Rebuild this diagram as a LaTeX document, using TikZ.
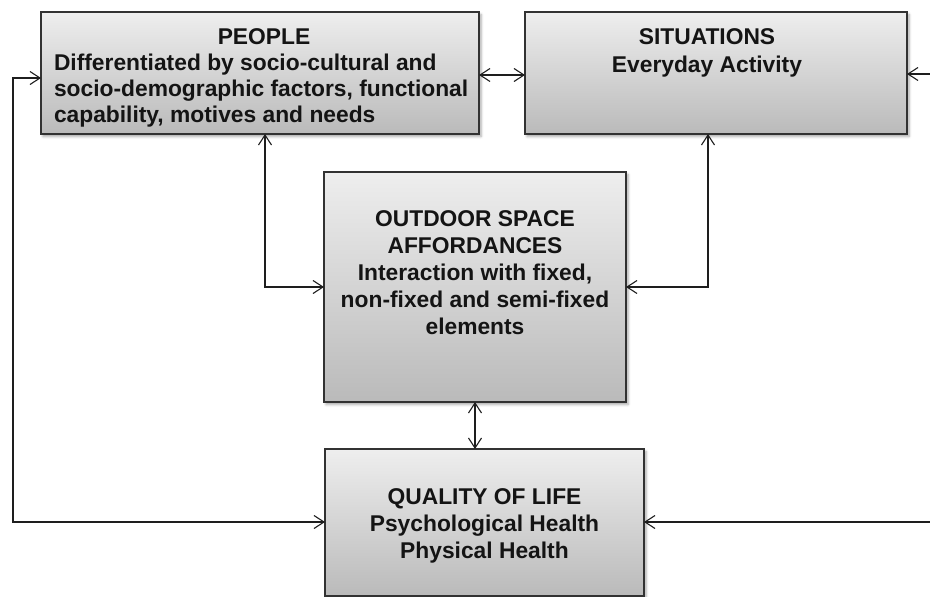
\documentclass[tikz,border=0pt]{standalone}
\usepackage{fontspec}
\setmainfont{Liberation Sans}
\usetikzlibrary{arrows.meta,shadows.blur}
\definecolor{edgec}{RGB}{50,50,50}
\definecolor{topc}{RGB}{238,238,238}
\definecolor{botc}{RGB}{186,186,186}
\definecolor{linec}{RGB}{30,30,30}
\newcommand\ctrline[1]{\hbox to\hsize{\hfil#1\hfil}}
\begin{document}
\begin{tikzpicture}[x=1pt,y=-1pt,
  box/.style={rectangle, draw=edgec, line width=1.3pt, top color=topc, bottom color=botc,
    inner sep=0pt, outer sep=0pt,
    blur shadow={shadow xshift=2pt, shadow yshift=-2.5pt, shadow blur radius=2.5pt, shadow opacity=35}},
  txt/.style={inner sep=0pt, outer sep=0pt, text=black!92, font=\fontsize{22.8}{27}\selectfont\bfseries},
  tipb/.tip={Straight Barb[length=10pt,width=13pt,line width=1.1pt]},
  conn/.style={draw=linec, line width=1.1pt, tipb-tipb},
  connin/.style={draw=linec, line width=1.1pt, -tipb}]
\useasboundingbox (0,0) rectangle (930,597);
% boxes
\node[box, minimum width=438pt, minimum height=122pt] (people) at (260,73) {};
\node[box, minimum width=382pt, minimum height=122pt] (situations) at (716,73) {};
\node[box, minimum width=302pt, minimum height=230pt] (outdoor) at (475,287) {};
\node[box, minimum width=319pt, minimum height=147pt] (quality) at (484.5,522.5) {};
% texts
\node[txt, anchor=base west] (peopletxt) at (54,45) {\vtop{\hsize=420pt\baselineskip=26pt
  \ctrline{PEOPLE}\hbox{Differentiated by socio-cultural and}\hbox{socio-demographic factors, functional}\hbox{capability, motives and needs}}};
\node[txt, anchor=base] (situationstxt) at (707,45) {\vtop{\hsize=300pt\baselineskip=27.5pt
  \ctrline{SITUATIONS}\ctrline{Everyday Activity}}};
\node[txt, anchor=base] (outdoortxt) at (475,226.5) {\vtop{\hsize=295pt\baselineskip=27pt
  \ctrline{OUTDOOR SPACE}\ctrline{AFFORDANCES}\ctrline{Interaction with fixed,}\ctrline{non-fixed and semi-fixed}\ctrline{elements}}};
\node[txt, anchor=base] (qualitytxt) at (484.5,504) {\vtop{\hsize=300pt\baselineskip=27pt
  \ctrline{QUALITY OF LIFE}\ctrline{Psychological Health}\ctrline{Physical Health}}};
% connector coordinates
\coordinate (lt) at (13,78);
\coordinate (lb) at (13,522);
\coordinate (ps) at (500,75);
\coordinate (rt) at (930,74);
\coordinate (rb) at (930,522);
\coordinate (po) at (265,287);
\coordinate (so) at (708,287);
\coordinate (oq) at (475,420);
% connectors
\draw[conn] (quality.west |- lb) -- (lb) -- (lt) -- (people.west |- lt);
\draw[conn] (people.east |- ps) -- (situations.west |- ps);
\draw[connin] (rt) -- (situations.east |- rt);
\draw[connin] (rb) -- (quality.east |- rb);
\draw[conn] (people.south -| po) -- (po) -- (outdoor.west |- po);
\draw[conn] (situations.south -| so) -- (so) -- (outdoor.east |- so);
\draw[conn] (outdoor.south -| oq) -- (quality.north -| oq);
\end{tikzpicture}
\end{document}
